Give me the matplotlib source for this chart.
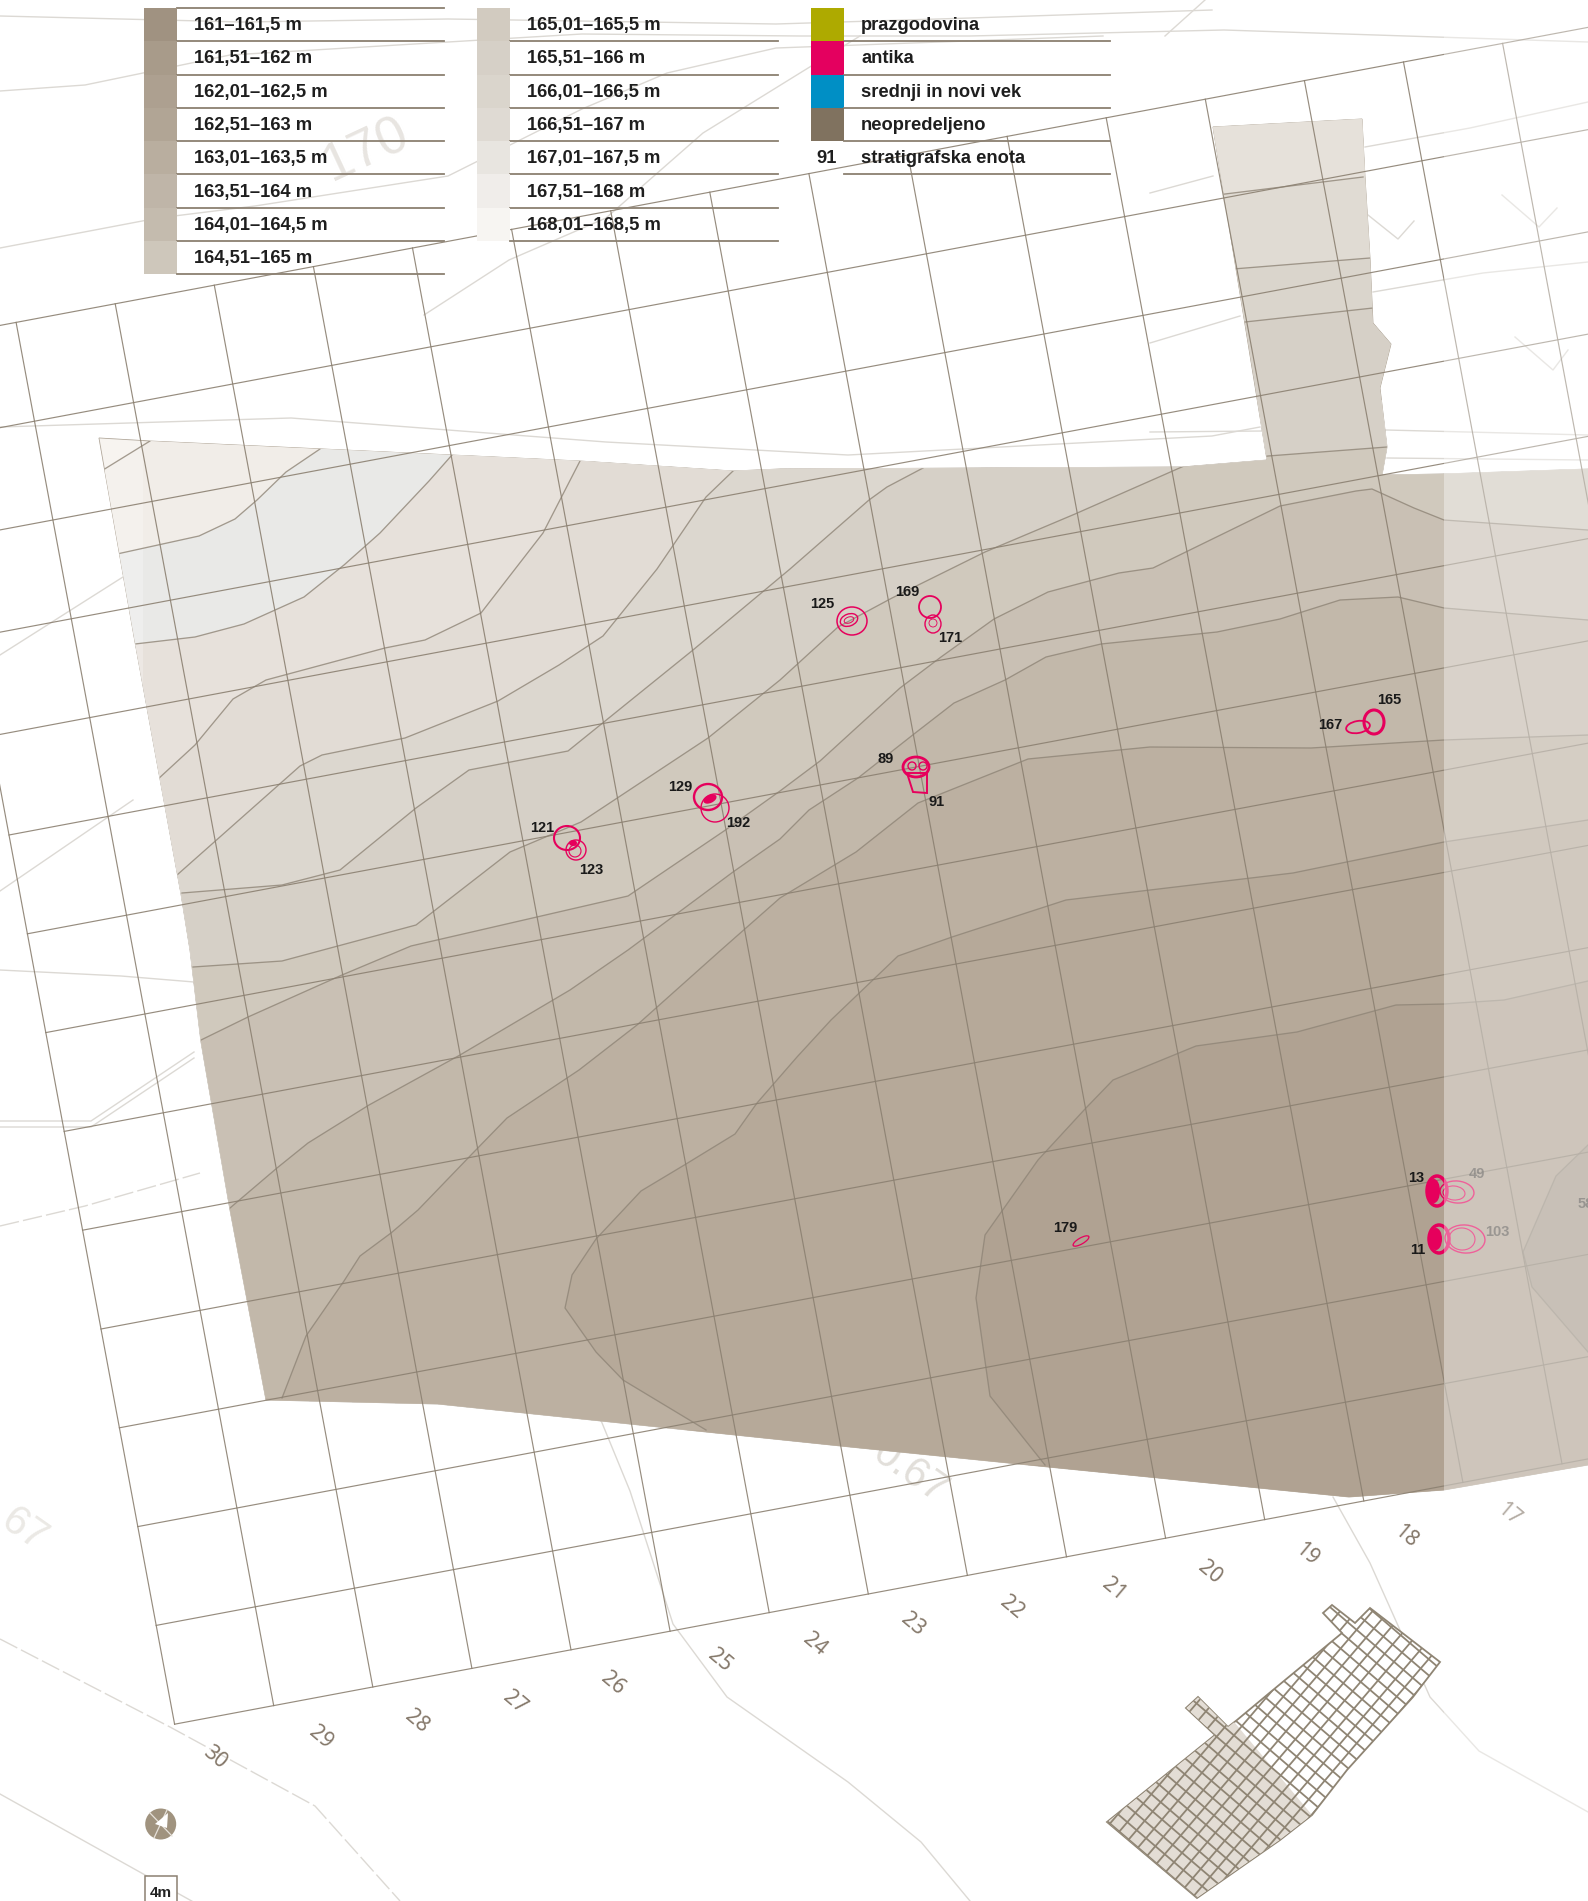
import numpy as np
import matplotlib
matplotlib.use('Agg')
import matplotlib.pyplot as plt
from matplotlib.patches import Polygon, Rectangle, Ellipse, Circle

plt.rcParams['font.family'] = ['Liberation Sans Narrow', 'Liberation Sans', 'DejaVu Sans']

# Legend
heights_1 = ['161–161,5 m', '161,51–162 m', '162,01–162,5 m', '162,51–163 m',
             '163,01–163,5 m', '163,51–164 m', '164,01–164,5 m', '164,51–165 m']
heights_2 = ['165,01–165,5 m', '165,51–166 m', '166,01–166,5 m', '166,51–167 m',
             '167,01–167,5 m', '167,51–168 m', '168,01–168,5 m']
periods = ['prazgodovina', 'antika', 'srednji in novi vek', 'neopredeljeno']
colors_1 = ['#a09281', '#a89b8a', '#ada090', '#b1a595', '#b9ae9f', '#bfb5a8', '#c4bbae', '#cec7bb']
colors_2 = ['#d2cbc0', '#d6d0c7', '#dad5cc', '#dfdad3', '#e8e5e0', '#f0edea', '#f7f5f2']
period_colors = ['#aeaa00', '#e4005f', '#008fc5', '#80725f']

# Survey outline
outline = [(99, 438), (150, 441), (452, 455), (580, 461), (733, 471), (780, 469), (1182, 467),
           (1267, 460), (1213, 127), (1362, 119), (1365, 177), (1370, 258), (1373, 323),
           (1391, 344), (1380, 388), (1387, 447), (1382, 475), (1443, 474), (1588, 469),
           (1588, 1465), (1444, 1490), (1349, 1497), (1048, 1467), (850, 1447), (438, 1404),
           (266, 1400), (230, 1210), (201, 1042), (190, 950), (181, 894), (135, 642)]

# Height contours, light to dark
line_a = [(103, 470), (150, 441), (200, 400)]
line_b = [(117, 554), (199, 536), (235, 519), (257, 500), (286, 472), (320, 449), (340, 420)]
line_c = [(135, 644), (195, 637), (244, 624), (304, 597), (344, 565), (380, 533), (429, 481), (452, 455), (470, 420)]
line_d = [(157, 780), (195, 745), (233, 699), (266, 680), (385, 648), (425, 640), (481, 613), (543, 533), (580, 461), (600, 420)]
line_e = [(177, 875), (300, 766), (322, 755), (405, 738), (498, 701), (559, 665), (603, 636), (657, 569),
          (706, 497), (733, 471), (770, 440)]
line_f = [(182, 893), (282, 885), (340, 870), (416, 808), (469, 770), (568, 751), (693, 650), (790, 569),
          (869, 500), (887, 487), (923, 468), (1000, 420)]
line_g = [(193, 967), (282, 961), (416, 925), (510, 852), (581, 822), (708, 738), (780, 680), (838, 627),
          (892, 598), (985, 552), (1075, 514), (1184, 466), (1268, 456), (1387, 447)]
line_h = [(201, 1040), (248, 1017), (342, 975), (411, 946), (628, 896), (724, 831), (780, 791), (820, 761),
          (900, 688), (941, 657), (994, 619), (1048, 592), (1119, 573), (1153, 568), (1280, 506),
          (1356, 491), (1372, 489), (1414, 508), (1444, 520), (1588, 530)]
line_i = [(230, 1208), (277, 1168), (308, 1143), (369, 1105), (460, 1055), (570, 990), (628, 950), (733, 872),
          (780, 839), (809, 810), (858, 778), (914, 734), (954, 703), (1005, 680), (1046, 657), (1101, 644),
          (1217, 632), (1280, 619), (1340, 600), (1398, 597), (1444, 608), (1588, 620)]
line_j = [(282, 1398), (306, 1336), (344, 1281), (360, 1256), (391, 1233), (418, 1210), (471, 1155), (507, 1118),
          (579, 1070), (637, 1025), (721, 950), (780, 898), (856, 852), (918, 803), (1028, 759), (1150, 747),
          (1311, 748), (1444, 740), (1588, 735)]
line_k = [(706, 1430), (623, 1380), (596, 1352), (565, 1308), (572, 1275), (596, 1239), (641, 1191), (686, 1164),
          (735, 1134), (757, 1103), (797, 1057), (831, 1020), (898, 956), (952, 937), (1066, 900), (1293, 873),
          (1444, 842), (1588, 820)]
line_l = [(1045, 1465), (990, 1396), (976, 1298), (985, 1235), (1038, 1160), (1085, 1109), (1113, 1080),
          (1196, 1046), (1297, 1032), (1396, 1005), (1444, 1004), (1504, 1000), (1588, 981)]
line_m = [(1588, 1145), (1556, 1176), (1523, 1252), (1532, 1287), (1588, 1352)]
contours = [line_a, line_b, line_c, line_d, line_e, line_f, line_g, line_h, line_i, line_j, line_k, line_l]
zone_colors = ['#f1ede8', '#e9e9e7', '#e7e1db', '#e2dcd5', '#dcd7cf', '#d6d0c7', '#d0c9bd', '#c9c0b4',
               '#c2b8aa', '#bcb0a1', '#b6a999', '#b0a292']

# Contours inside the northern extension
ext_lines = [[(1245, 322), (1373, 308)], [(1233, 269), (1370, 258)], [(1217, 195), (1363, 177)]]
ext_colors = ['#dad5cc', '#e0dbd3', '#e6e1da']

# Background terrain lines
roads = [
    [(0, 16), (242, 22), (448, 19), (776, 24), (970, 18), (1212, 10)],
    [(0, 91), (85, 85), (230, 55), (448, 42), (582, 34), (800, 36), (970, 36), (1224, 30), (1588, 42)],
    [(0, 248), (158, 218), (255, 206), (448, 176), (582, 109), (667, 73), (776, 48), (1103, 36)],
    [(0, 427), (291, 418), (448, 430), (606, 442), (848, 455), (1212, 436), (1260, 427)],
    [(424, 315), (509, 260), (606, 218), (703, 133), (800, 73), (860, 36)],
    [(1165, 36), (1205, 0)],
    [(0, 655), (145, 563)], [(0, 891), (133, 800)],
    [(0, 970), (121, 976), (194, 982)],
    [(0, 1121), (91, 1121), (194, 1052)], [(0, 1127), (91, 1127), (194, 1058)],
    [(600, 1418), (630, 1491), (673, 1624), (727, 1697), (848, 1782), (921, 1842), (970, 1901)],
    [(1333, 1497), (1370, 1563), (1430, 1697), (1479, 1751), (1588, 1812)],
    [(0, 1794), (206, 1909)],
    [(1365, 147), (1470, 128), (1588, 102)], [(1150, 193), (1213, 176)],
    [(1373, 292), (1483, 273), (1588, 262)], [(1150, 343), (1240, 316)],
    [(1150, 432), (1263, 431)], [(1386, 430), (1588, 435)], [(1387, 458), (1588, 460)],
    [(1368, 215), (1398, 239), (1414, 221)], [(1502, 195), (1539, 227), (1557, 208)],
    [(1515, 337), (1553, 370), (1568, 350)],
]
dashed_roads = [
    [(0, 1226), (85, 1206), (200, 1173)],
    [(0, 1639), (170, 1727), (315, 1806), (400, 1901)],
]

# Grid
grid_origin = (-83, 341)
col_step = (99.1, -18.6)
row_step = (18.4, 98.8)
n_cols = 17
n_rows = 14
col_labels = ['30', '29', '28', '27', '26', '25', '24', '23', '22', '21', '20', '19', '18', '17']
col_label_x = [215, 321, 417, 515, 613, 720, 815, 913, 1012, 1114, 1210, 1307, 1406, 1509]
col_label_y = [1757, 1737, 1721, 1702, 1684, 1661, 1644, 1625, 1608, 1589, 1572, 1554, 1536, 1514]

# Stratigraphic units
units = ['125', '169', '171', '129', '192', '121', '123', '89', '91', '165', '167', '179', '13', '11']
unit_x = [822, 907, 950, 680, 738, 542, 591, 886, 937, 1389, 1330, 1065, 1416, 1418]
unit_y = [604, 592, 638, 787, 823, 828, 870, 759, 802, 700, 725, 1228, 1178, 1250]
faded_units = ['49', '103', '58']
faded_x = [1477, 1497, 1578]
faded_y = [1174, 1232, 1204]

# Feature outlines: x, y, half width, half height, angle, line width
features = [
    (852, 621, 15, 14, 0, 1.1), (849, 620, 9, 6, -20, 1.0), (849, 620, 5, 3, -20, 0.7),
    (930, 607, 11, 11, 0, 1.3), (933, 624, 8, 9, 0, 1.0), (933, 623, 4, 4, 0, 0.6),
    (708, 797, 14, 13, 0, 1.7), (715, 808, 14, 14, 0, 1.0),
    (567, 838, 13, 12, 0, 1.5), (576, 850, 10, 10, 0, 1.0), (575, 851, 6, 6, 0, 0.8),
    (916, 767, 13, 10, 0, 2.0), (912, 766, 4, 4, 0, 1.0), (923, 766, 4, 4, 0, 1.0),
    (1374, 722, 10, 12, 0, 2.2), (1358, 727, 12, 6, -10, 1.3),
    (1081, 1241, 9, 3, -30, 0.9),
    (1437, 1191, 10, 15, 0, 2.5), (1457, 1192, 17, 11, 5, 1.0), (1454, 1193, 11, 7, 5, 0.8),
    (1439, 1239, 10, 14, 0, 2.5), (1465, 1239, 20, 14, 5, 1.0), (1462, 1239, 13, 11, 5, 0.8),
]
solid_features = [(710, 799, 7, 4, -25), (573, 843, 4, 3, 0), (1434, 1191, 6, 12, 0), (1436, 1239, 6, 11, 0)]
unit_91_shape = [(907, 773), (913, 792), (927, 793), (927, 773)]

# Key map
key_outline = [(1107, 1822), (1197, 1898), (1247, 1863), (1280, 1840), (1312, 1815), (1347, 1770), (1413, 1697),
               (1440, 1662), (1370, 1608), (1355, 1623), (1332, 1605), (1323, 1613), (1342, 1633), (1273, 1690),
               (1237, 1720), (1228, 1727), (1198, 1697), (1186, 1708), (1215, 1735)]
key_filled = [(1107, 1822), (1197, 1898), (1247, 1863), (1280, 1840), (1312, 1815), (1235, 1723), (1198, 1697),
              (1186, 1708), (1215, 1735)]

grid_color = '#8b8071'
contour_color = '#8f8577'
road_color = '#dcd9d4'
pink = '#e6005c'

fig = plt.figure(figsize=(15.88, 19.01), dpi=100, facecolor='white')
ax = fig.add_axes([0, 0, 1, 1])
ax.set_xlim(0, 1588)
ax.set_ylim(1901, 0)
ax.axis('off')

for r in roads:
    ax.plot(*zip(*r), color=road_color, lw=1.0, zorder=0)
for r in dashed_roads:
    ax.plot(*zip(*r), color=road_color, lw=1.0, ls=(0, (14, 3)), zorder=0)

# faint elevation numbers on the base map
ax.text(366, 150, '170', fontsize=38, color='#e8e5e1', rotation=25, ha='center', va='center', zorder=0,
        family=['Liberation Sans', 'DejaVu Sans'])
ax.text(910, 1472, '0.67', fontsize=30, color='#e2dfda', rotation=-35, ha='center', va='center', zorder=0,
        family=['Liberation Sans', 'DejaVu Sans'])
ax.text(24, 1530, '67', fontsize=30, color='#ebe9e5', rotation=-35, ha='center', va='center', zorder=0,
        family=['Liberation Sans', 'DejaVu Sans'])

# Height zones
clip = Polygon(outline, closed=True, transform=ax.transData)
base = Polygon(outline, closed=True, fc='#f5f1ec', ec='#a79c8d', lw=0.6, zorder=1)
ax.add_patch(base)
for line, col in zip(contours, zone_colors):
    closing = [(1800, line[-1][1]), (1800, 2000), (-100, 2000), (-100, line[0][1])]
    if line is line_f:
        closing = [(1000, 0), (1800, 0), (1800, 2000), (-100, 2000), (-100, line[0][1])]
    zone = Polygon(list(line) + closing, closed=True, fc=col, ec='none', zorder=1)
    ax.add_patch(zone)
    zone.set_clip_path(clip)
for line, col in zip(ext_lines, ext_colors):
    zone = Polygon(list(line) + [(1500, 0), (1100, 0)], closed=True, fc=col, ec='none', zorder=1)
    ax.add_patch(zone)
    zone.set_clip_path(clip)
zone = Polygon(line_m + [(1800, 1352), (1800, 1145)], closed=True, fc='#a79b8c', ec='none', zorder=1)
ax.add_patch(zone)
zone.set_clip_path(clip)
strip = Rectangle((90, 430), 53, 300, fc='white', alpha=0.25, ec='none', zorder=1.5)
ax.add_patch(strip)
strip.set_clip_path(clip)

for line in contours + ext_lines + [line_m]:
    l, = ax.plot(*zip(*line), color=contour_color, lw=0.95, alpha=0.8, zorder=2)
    l.set_clip_path(clip)

# Grid
for i in range(n_cols + 1):
    x0 = grid_origin[0] + i * col_step[0]
    y0 = grid_origin[1] + i * col_step[1]
    ax.plot([x0, x0 + n_rows * row_step[0]], [y0, y0 + n_rows * row_step[1]], color=grid_color, lw=0.85, alpha=0.9, zorder=3)
for j in range(n_rows + 1):
    x0 = grid_origin[0] + j * row_step[0]
    y0 = grid_origin[1] + j * row_step[1]
    ax.plot([x0, x0 + n_cols * col_step[0]], [y0, y0 + n_cols * col_step[1]], color=grid_color, lw=0.85, alpha=0.9, zorder=3)

for lab, x, y in zip(col_labels, col_label_x, col_label_y):
    ax.text(x, y, lab, fontsize=15, color='#85786a', rotation=-40, ha='center', va='center', zorder=5,
            family=['Noto Sans', 'DejaVu Sans'], fontweight='bold')

# Features
for x, y, w, h, ang, lw in features:
    ax.add_patch(Ellipse((x, y), 2 * w, 2 * h, angle=ang, fc='none', ec=pink, lw=lw, zorder=4))
for x, y, w, h, ang in solid_features:
    ax.add_patch(Ellipse((x, y), 2 * w, 2 * h, angle=ang, fc=pink, ec='none', zorder=4))
ax.add_patch(Polygon(unit_91_shape, closed=True, fc='none', ec=pink, lw=1.4, zorder=4))

for lab, x, y in zip(units, unit_x, unit_y):
    ax.text(x, y, lab, fontsize=10.5, color='#1a1a1a', ha='center', va='center', zorder=5, fontweight='bold')
for lab, x, y in zip(faded_units, faded_x, faded_y):
    ax.text(x, y, lab, fontsize=10.5, color='#1a1a1a', ha='left' if lab == '58' else 'center', va='center',
            zorder=5, fontweight='bold', alpha=0.55)

# Lighter panel on the east side
ax.add_patch(Rectangle((1444, 0), 144, 1901, fc='white', alpha=0.38, ec='none', zorder=6))

# Legend
row_h = 33.3
top = 8
ax.plot([177, 444], [top, top], color=grid_color, lw=1.3, zorder=7)
for col_x, line_end, labels, cols in [(144, 444, heights_1, colors_1), (477, 778, heights_2, colors_2),
                                      (811, 1110, periods + ['stratigrafska enota'], period_colors)]:
    for k, lab in enumerate(labels):
        y = top + k * row_h
        if k < len(cols):
            ax.add_patch(Rectangle((col_x, y), 33, row_h, fc=cols[k], ec='none', zorder=7))
        ax.plot([col_x + 33, line_end], [y + row_h, y + row_h], color=grid_color, lw=1.3, zorder=7)
        ax.text(col_x + 50, y + row_h / 2 + 1, lab, fontsize=13.2, color='#1e1e1e', ha='left', va='center',
                fontweight='bold', zorder=8)
ax.text(827, top + 4.5 * row_h + 1, '91', fontsize=13.2, color='#1e1e1e', ha='center', va='center',
        fontweight='bold', zorder=8)

# Key map
key_clip = Polygon(key_outline, closed=True, transform=ax.transData)
ax.add_patch(Polygon(key_outline, closed=True, fc='white', ec='#8f8574', lw=1.3, zorder=4))
filled = Polygon(key_filled, closed=True, fc='#e3ddd5', ec='none', zorder=4)
ax.add_patch(filled)
filled.set_clip_path(key_clip)
dir_a = np.array([0.76, 0.65])
dir_b = np.array([0.65, -0.76])
for s in range(-30, 31):
    for d, n in ((dir_a, dir_b), (dir_b, dir_a)):
        mid = np.array([1270.0, 1750.0]) + s * 12.3 * n
        p = mid - 300 * d
        q = mid + 300 * d
        l, = ax.plot([p[0], q[0]], [p[1], q[1]], color='#8f8574', lw=1.3, zorder=4.5)
        l.set_clip_path(key_clip)

# North sign and scale
ax.add_patch(Circle((160.7, 1824), 15.5, fc='#a0937f', ec='none', zorder=5))
ax.plot([150, 172], [1813, 1836], color='#e6e1da', lw=0.9, zorder=5.1)
ax.plot([154, 167], [1838, 1810], color='#e6e1da', lw=0.9, zorder=5.1)
ax.add_patch(Polygon([(168, 1813), (155, 1824), (167, 1828)], closed=True, fc='white', ec='none', zorder=5.2))
ax.add_patch(Rectangle((144.5, 1876), 32, 30, fc='white', ec=grid_color, lw=1.1, zorder=5))
ax.text(161, 1893, '4m', fontsize=11, color='#222222', ha='center', va='center', fontweight='bold', zorder=5.5)

fig.savefig('out.png', dpi=100)
